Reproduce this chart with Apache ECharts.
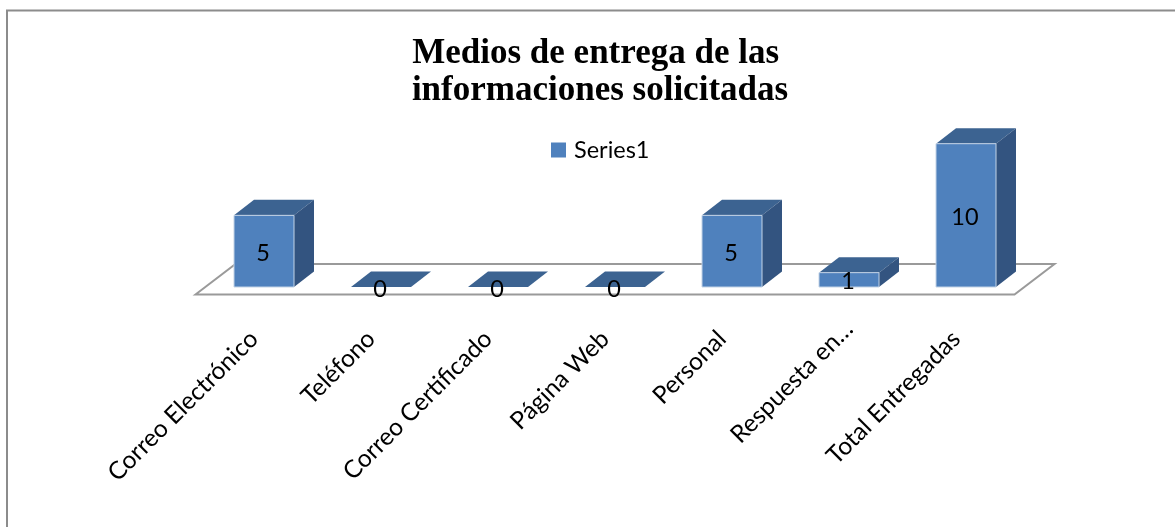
<!DOCTYPE html>
<html>
<head>
<meta charset="utf-8">
<script src="https://cdn.jsdelivr.net/npm/echarts@6/dist/echarts.min.js"></script>
<style>
  html, body { margin: 0; background: #fff; }
  #chart { width: 1175px; height: 527px; }
</style>
</head>
<body>
<div id="chart"></div>
<script>
const categories = ['Correo Electrónico', 'Teléfono', 'Correo Certificado', 'Página Web', 'Personal', 'Respuesta en…', 'Total Entregadas']
const values = [5, 0, 0, 0, 5, 1, 10]
const seriesName = 'Series1'
const titleLines = ['Medios de entrega de las ', 'informaciones solicitadas']

const depthX = 20
const depthY = 15.5
const barWidth = 60

// caja 3d: frente, techo y lado, sacados de la escala del eje
function renderBar(params, api) {
  const i = api.value(0)
  const v = api.value(1)
  const [cx, top] = api.coord([i, v])
  const [, base] = api.coord([i, 0])
  const [, mid] = api.coord([i, v / 2])
  const x0 = cx - barWidth / 2
  const x1 = cx + barWidth / 2
  const children = []
  children.push({
    type: 'polygon',
    shape: { points: [[x0, top], [x0 + depthX, top - depthY], [x1 + depthX, top - depthY], [x1, top]] },
    style: { fill: '#3c6391' }
  })
  if (v > 0) {
    children.push({
      type: 'polygon',
      shape: { points: [[x1, top], [x1 + depthX, top - depthY], [x1 + depthX, base - depthY], [x1, base]] },
      style: { fill: '#335480' }
    })
    children.push({
      type: 'rect',
      shape: { x: x0, y: top, width: barWidth, height: base - top },
      style: { fill: '#4f81bd', stroke: '#c3d3e6', lineWidth: 1 }
    })
  }
  children.push({
    type: 'text',
    style: {
      x: cx - 1, y: mid + 2, text: String(v), fill: '#000',
      font: '23.5px Lato', align: 'center', verticalAlign: 'middle'
    }
  })
  return { type: 'group', children }
}

// piso del grafico, mismo ancho que la banda de categorias
function renderFloor(params, api) {
  const [, base] = api.coord([0, 0])
  const left = params.coordSys.x
  const right = left + params.coordSys.width
  const front = base + 7.5
  const back = base - 23
  return {
    type: 'polygon',
    shape: { points: [[left - 10, front], [left + 30, back], [right + 30, back], [right - 10, front]] },
    style: { fill: '#fff', stroke: '#9a9a9a', lineWidth: 2 }
  }
}

const chart = echarts.init(document.getElementById('chart'), null, { renderer: 'canvas' })
chart.setOption({
  animation: false,
  backgroundColor: '#fff',
  title: {
    text: titleLines.join('\n'),
    left: 595,
    top: 30.5,
    textAlign: 'center',
    textStyle: { fontFamily: 'Liberation Serif', fontWeight: 'bold', fontSize: 35, lineHeight: 37, color: '#000' }
  },
  legend: {
    data: [{ name: seriesName, icon: 'rect', itemStyle: { color: '#4f81bd' } }],
    left: 546,
    top: 133,
    itemWidth: 15,
    itemHeight: 15,
    itemGap: 6,
    selectedMode: false,
    textStyle: { fontFamily: 'Lato', fontSize: 23.5, color: '#000', padding: [0, 0, 0, 3] }
  },
  grid: { left: 205.5, right: 150.5, top: 143.7, bottom: 240 },
  xAxis: {
    type: 'category',
    // la etiqueta cortada queda un poco mas arriba que las otras
    data: categories.map(c => c.endsWith('…') ? { value: c, textStyle: { padding: [0, 0, 0, 0] } } : c),
    axisLine: { show: false },
    axisTick: { show: false },
    axisLabel: {
      rotate: 45,
      interval: 0,
      margin: 38,
      padding: [0, 14, 0, 0],
      fontFamily: 'Lato',
      fontSize: 24.5,
      color: '#000'
    }
  },
  yAxis: { type: 'value', min: 0, max: 10, show: false },
  series: [
    {
      type: 'custom',
      name: 'floor',
      silent: true,
      renderItem: renderFloor,
      data: [0],
      encode: { x: 0, y: 0 },
      z: 1
    },
    {
      type: 'custom',
      name: seriesName,
      renderItem: renderBar,
      data: values.map((v, i) => [i, v]),
      encode: { x: 0, y: 1 },
      z: 2
    }
  ],
  graphic: [
    {
      type: 'polyline',
      shape: { points: [[7, 527], [7, 10.5], [1175, 10.5]] },
      style: { fill: 'none', stroke: '#8c8c8c', lineWidth: 2 },
      silent: true
    }
  ]
})
</script>
</body>
</html>
